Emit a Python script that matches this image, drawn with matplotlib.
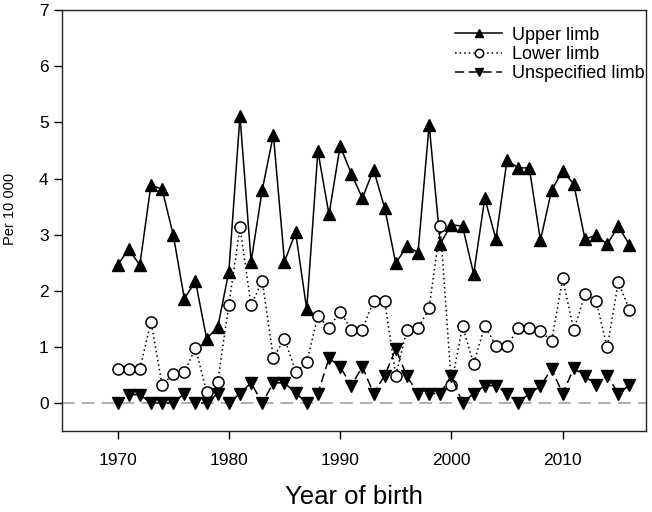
import numpy as np
import matplotlib
matplotlib.use("Agg")
import matplotlib.pyplot as plt

plt.rcParams['font.family'] = ['Liberation Sans', 'DejaVu Sans']

years = np.arange(1970, 2017)

upper = [2.46, 2.74, 2.46, 3.89, 3.81, 3.00, 1.86, 2.17, 1.15, 1.35,
         2.34, 5.12, 2.52, 3.80, 4.78, 2.52, 3.04, 1.67, 4.49, 3.36,
         4.58, 4.09, 3.65, 4.16, 3.48, 2.49, 2.80, 2.68, 4.96, 2.84,
         3.18, 3.15, 2.30, 3.65, 2.92, 4.33, 4.19, 4.19, 2.90, 3.79,
         4.14, 3.90, 2.92, 2.99, 2.83, 3.15, 2.82]

lower = [0.60, 0.60, 0.60, 1.45, 0.33, 0.51, 0.55, 0.98, 0.20, 0.38,
         1.75, 3.13, 1.74, 2.18, 0.80, 1.15, 0.56, 0.73, 1.55, 1.34,
         1.63, 1.31, 1.31, 1.82, 1.82, 0.49, 1.31, 1.33, 1.69, 3.15,
         0.33, 1.37, 0.70, 1.38, 1.02, 1.02, 1.33, 1.33, 1.29, 1.10,
         2.22, 1.30, 1.94, 1.82, 0.99, 2.16, 1.66]

unspecified = [0.00, 0.15, 0.15, 0.00, 0.00, 0.00, 0.17, 0.00, 0.00, 0.17,
               0.00, 0.17, 0.36, 0.00, 0.36, 0.36, 0.18, 0.00, 0.17, 0.80,
               0.65, 0.31, 0.65, 0.17, 0.49, 0.96, 0.48, 0.17, 0.17, 0.17,
               0.49, 0.00, 0.17, 0.31, 0.31, 0.17, 0.00, 0.17, 0.30, 0.61,
               0.17, 0.62, 0.48, 0.32, 0.49, 0.17, 0.32]

fig = plt.figure(figsize=(6.52, 5.12), dpi=100)
ax = fig.add_axes([0.095, 0.158, 0.896, 0.822])

# reference line at zero
ax.axhline(0, color='#a8a8a8', linestyle=(0, (7, 4)), linewidth=1.3, zorder=1)

ax.plot(years, upper, color='black', linestyle='-', linewidth=1.1,
        marker='^', markersize=8, markerfacecolor='black',
        label='Upper limb', zorder=3)
ax.plot(years, lower, color='black', linestyle=(0, (1, 2)), linewidth=1.1,
        marker='o', markersize=8, markerfacecolor='white',
        markeredgewidth=1.1, label='Lower limb', zorder=3)
ax.plot(years, unspecified, color='black', linestyle=(0, (6, 3)),
        linewidth=1.1, marker='v', markersize=8, markerfacecolor='black',
        label='Unspecified limb', zorder=3)

ax.set_xlim(1965, 2017.5)
ax.set_ylim(-0.5, 7)
ax.set_xticks([1970, 1980, 1990, 2000, 2010])
ax.set_yticks(range(0, 8))
ax.tick_params(direction='out', length=6, width=1, labelsize=12.5,
               top=False, right=False)
ax.tick_params(axis='x', pad=10)
for s in ax.spines.values():
    s.set_linewidth(1)
    s.set_color('#222222')

ax.set_xlabel('Year of birth', fontsize=18.5, labelpad=12)
ax.set_ylabel('Per 10 000', fontsize=10.5)
ax.yaxis.set_label_coords(-0.077, 0.527)

ax.legend(loc='upper right', bbox_to_anchor=(1.01, 0.978), frameon=False,
          fontsize=13, handlelength=2.6, handletextpad=0.55,
          labelspacing=0.12, borderaxespad=0, borderpad=0.4,
          markerscale=0.75)

fig.savefig('out.png', dpi=100)
